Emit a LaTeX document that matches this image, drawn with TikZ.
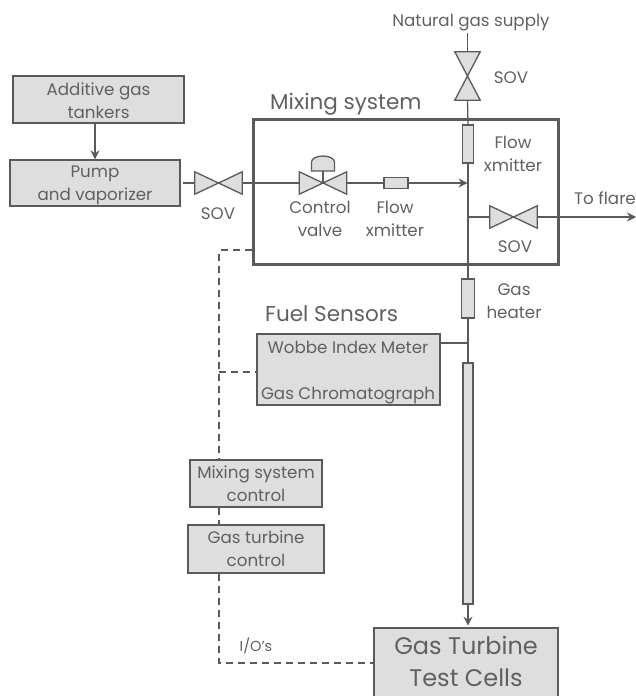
\documentclass[tikz,border=0pt]{standalone}
\usepackage{fontspec}
\setmainfont{Poppins}
\usepackage{xcolor}
\usetikzlibrary{arrows.meta, positioning, calc}
\definecolor{linegray}{HTML}{5A5A5A}
\definecolor{textgray}{HTML}{606060}
\definecolor{boxgray}{HTML}{DEDEDE}

\begin{document}
\begin{tikzpicture}[
    x=1pt, y=-1pt,
    every node/.style={text=textgray},
    txt/.style={font=\fontsize{16.7}{23}\selectfont, align=center, inner sep=0pt},
    bigtxt/.style={font=\fontsize{24}{35}\selectfont, inner sep=0pt},
    title/.style={font=\fontsize{21.5}{26}\selectfont, inner sep=0pt},
    box/.style={txt, rectangle, draw=linegray, line width=1.3pt, fill=boxgray},
    part/.style={rectangle, draw=linegray, line width=1.3pt, fill=boxgray, inner sep=0pt},
    valve/.style={draw=linegray, line width=1.3pt, fill=boxgray},
    valvebox/.style={inner sep=0pt, minimum width=47pt, minimum height=22pt},
    valveboxv/.style={inner sep=0pt, minimum width=25pt, minimum height=48pt},
    pipe/.style={draw=linegray, line width=1.3pt},
    arrow/.style={pipe, -{Stealth[length=9pt, width=9pt, inset=3pt]}},
    signal/.style={draw=linegray, line width=1.2pt, dash pattern=on 7pt off 5pt}
]
\useasboundingbox (0,0) rectangle (636,696);

% Additive gas side
\node[box, minimum width=171pt, minimum height=47pt] (tankers) at (98.5,99.5) {};
\node[txt] (tankerstext) at (98.5,100.5) {Additive gas\\tankers};
\node[box, minimum width=170pt, minimum height=46pt] (pump) at (95,183) {};
\node[txt] (pumptext) at (95,185) {Pump\\and vaporizer};
\draw[arrow] (tankers.south -| pump.south) -- (pump.north);

% Valves
\node[valvebox] (sovadd) at (218.5,183) {};
\node[valvebox] (control) at (323,183) {};
\node[valvebox] (sovflare) at (513.5,217) {};
\node[valveboxv] (sovgas) at (467.5,76) {};
\draw[valve] (sovadd.north west) -- (sovadd.south east) -- (sovadd.north east) -- (sovadd.south west) -- cycle;
\draw[valve] (control.north west) -- (control.south east) -- (control.north east) -- (control.south west) -- cycle;
\draw[valve] (sovflare.north west) -- (sovflare.south east) -- (sovflare.north east) -- (sovflare.south west) -- cycle;
\draw[valve] (sovgas.north west) -- (sovgas.north east) -- (sovgas.south west) -- (sovgas.south east) -- cycle;
\draw[pipe] (control.center) -- ++(0,-12) coordinate (stem);
\draw[valve] ($(stem)+(-11.5,0)$) -- ++(0,-9) arc (180:360:11.5 and 6) -- ++(0,9) -- cycle;

% Mixing system
\node[draw=linegray, line width=3pt, minimum width=305pt, minimum height=145pt, inner sep=0pt] (mixing) at (405.5,191.5) {};
\node[title, anchor=south west] (mixingtitle) at (270,116) {Mixing system};
\node[part, minimum width=24pt, minimum height=11pt] (xmitadd) at (396,183) {};
\node[part, minimum width=11pt, minimum height=38pt] (xmitgas) at (468,144) {};
\node[part, minimum width=13pt, minimum height=39pt] (heater) at (468,298.5) {};
\node[part, minimum width=10pt, minimum height=241pt] (cell) at (468,483.5) {};

\coordinate (supply) at (467.5,33);
\coordinate (inlet) at (467.5,183);
\coordinate (tee) at (468,217);
\coordinate (flare) at (636,217);

% Fuel sensors and controls
\node[title, anchor=south west] (fueltitle) at (265,322) {Fuel Sensors};
\node[box, minimum width=183pt, minimum height=71pt] (sensors) at (348.5,369.5) {};
\node[txt] (wobbe) at (348,347) {Wobbe Index Meter};
\node[txt] (chroma) at (348,396) {Gas Chromatograph};
\node[box, minimum width=132pt, minimum height=47pt] (mixctrl) at (256,483.5) {Mixing system\\control};
\node[box, minimum width=136pt, minimum height=48pt] (gtctrl) at (256,549) {Gas turbine\\control};
\node[box, minimum width=184pt, minimum height=72pt] (cells) at (466,664) {};
\node[bigtxt] (cellsname) at (466,645) {Gas Turbine};
\node[bigtxt] (cellstest) at (466,678) {Test Cells};

% Pipes
\node[txt] (natural) at (471,23) {Natural gas supply};
\draw[pipe] (supply) -- (sovgas.north);
\draw[pipe] (sovgas.south) -- (xmitgas.north);
\draw[pipe] (xmitgas.south) -- (heater.north);
\draw[pipe] (heater.south) -- (cell.north);
\draw[arrow] (cell.south) -- ++(0,21);
\draw[pipe, shorten <=2pt] (pump.east) -- (sovadd.west);
\draw[pipe] (sovadd.east) -- (control.west);
\draw[pipe] (control.east) -- (xmitadd.west);
\draw[arrow] (xmitadd.east) -- (inlet);
\draw[pipe] (tee) -- (sovflare.west);
\draw[arrow] (sovflare.east) -- (flare);
\draw[pipe] (sensors.east |- 0,343) -- (468,343);

% Signals
\coordinate (busmix) at (219,250);
\coordinate (bussensor) at (219,372);
\coordinate (busio) at (219,663);
\draw[signal] (mixing.west |- busmix) -- (busmix) -- (busmix |- mixctrl.north);
\draw[signal] (bussensor) -- (sensors.west |- bussensor);
\draw[signal] (busmix |- mixctrl.south) -- (busmix |- gtctrl.north);
\draw[signal] (busmix |- gtctrl.south) -- (busio) -- (cells.west |- busio);

% Labels
\node[txt] (labelsovadd) at (218,214) {SOV};
\node[txt, text width=70pt] (labelcontrol) at (320,219) {Control\\valve};
\node[txt, text width=70pt] (labelxmitadd) at (395,219) {Flow\\xmitter};
\node[txt] (labelsovgas) at (511,78) {SOV};
\node[txt, text width=70pt] (labelxmitgas) at (513,153.5) {Flow\\xmitter};
\node[txt] (labelsovflare) at (515,247) {SOV};
\node[txt] (labelflare) at (605,198) {To flare};
\node[txt, text width=70pt] (labelheater) at (514,301) {Gas\\heater};
\node[txt, font=\fontsize{14.5}{16}\selectfont] (labelio) at (256,646) {I/O's};
\end{tikzpicture}
\end{document}
